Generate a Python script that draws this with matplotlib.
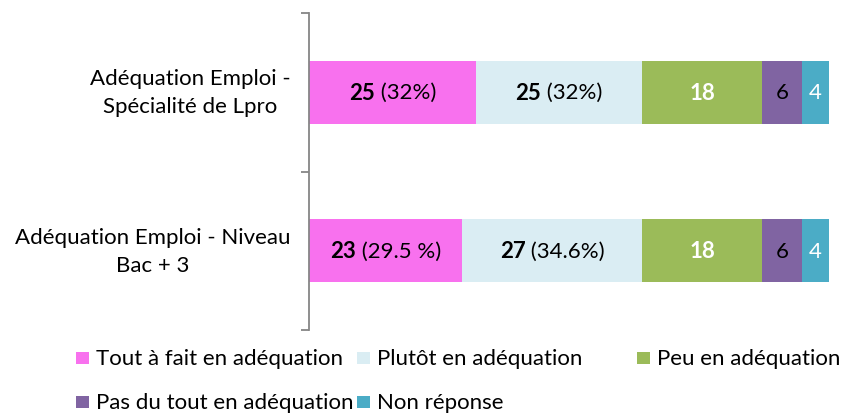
import matplotlib
matplotlib.use("Agg")
import matplotlib.pyplot as plt
from matplotlib.patches import Rectangle

plt.rcParams['font.family'] = ['Lato', 'DejaVu Sans']

categories = ["Adéquation Emploi -\nSpécialité de Lpro", "Adéquation Emploi - Niveau\nBac + 3"]
series_names = ["Tout à fait en adéquation", "Plutôt en adéquation", "Peu en adéquation",
                "Pas du tout en adéquation", "Non réponse"]
values = [
    [25, 23],
    [25, 27],
    [18, 18],
    [6, 6],
    [4, 4],
]
pct_labels = [
    ["(32%)", "(29.5 %)"],
    ["(32%)", "(34.6%)"],
]
colors = ["#F871EE", "#DAEDF3", "#9BBB59", "#8064A2", "#4BACC6"]
text_colors = ["black", "black", "white", "black", "white"]
bold = [True, True, True, False, False]

fig = plt.figure(figsize=(8.5, 4.14), dpi=100)
W, H = 850, 414
ax = fig.add_axes([309 / W, 1 - 331 / H, (829 - 309) / W, (331 - 14) / H])
ax.set_xlim(0, 78)
ax.set_ylim(2, 0)

ypos = [0.5, 1.5]
left = [0, 0]
fs = 16
fig.canvas.draw()
r = fig.canvas.get_renderer()
for i, (name, vals) in enumerate(zip(series_names, values)):
    ax.barh(ypos, vals, left=left, height=0.4, color=colors[i], edgecolor='none')
    for j, v in enumerate(vals):
        cx = left[j] + v / 2
        if i < 2:
            t1 = fig.text(0, 0, f"{v}", fontsize=fs, fontweight='bold')
            t2 = fig.text(0, 0, " " + pct_labels[i][j], fontsize=fs)
            w1 = t1.get_window_extent(r).width
            w2 = t2.get_window_extent(r).width
            t1.remove(); t2.remove()
            cpix = ax.transData.transform((cx, ypos[j]))
            x0 = cpix[0] - (w1 + w2) / 2
            ax.annotate(f"{v}", xy=(cx, ypos[j]), xytext=(x0 - cpix[0], 0), textcoords='offset pixels',
                        fontsize=fs, fontweight='bold', color=text_colors[i], ha='left', va='center')
            ax.annotate(" " + pct_labels[i][j], xy=(cx, ypos[j]), xytext=(x0 + w1 - cpix[0], 0),
                        textcoords='offset pixels', fontsize=fs, color=text_colors[i],
                        ha='left', va='center')
        else:
            ax.text(cx, ypos[j], f"{v}", fontsize=fs, fontweight='bold' if bold[i] else 'normal',
                    color=text_colors[i], ha='center', va='center')
        left[j] += v

ax.set_yticks([0, 1, 2])
ax.set_yticklabels([])
ax.tick_params(axis='y', length=6, width=1.3, color='#868686', direction='out')
ax.set_xticks([])
for s in ['top', 'right', 'bottom']:
    ax.spines[s].set_visible(False)
ax.spines['left'].set_color('#868686')
ax.spines['left'].set_linewidth(1.3)

for j, c in enumerate(categories):
    ax.text(-0.035, ypos[j], c, transform=ax.get_yaxis_transform(), ha='right', va='center',
            multialignment='center', fontsize=16, color='black', linespacing=1.5)

# legend
leg_items = [
    (0, 76, 359), (1, 357, 359), (2, 637, 359),
    (3, 76, 403), (4, 357, 403),
]
for idx, x, y in leg_items:
    fig.add_artist(Rectangle((x / W, 1 - (y + 6) / H), 13 / W, 12 / H,
                             transform=fig.transFigure, facecolor=colors[idx], edgecolor='none'))
    fig.text((x + 20) / W, 1 - y / H, series_names[idx], fontsize=16, ha='left', va='center')

fig.savefig("out.png", dpi=100)
